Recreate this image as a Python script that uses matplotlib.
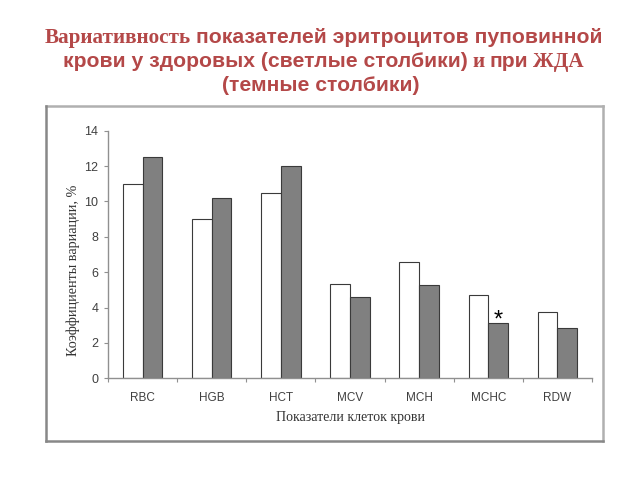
import numpy as np
import matplotlib
matplotlib.use("Agg")
import matplotlib.pyplot as plt
from matplotlib.lines import Line2D

categories = ["RBC", "HGB", "HCT", "MCV", "MCH", "MCHC", "RDW"]
healthy = [11.0, 9.0, 10.5, 5.35, 6.6, 4.7, 3.75]
ida = [12.5, 10.2, 12.0, 4.6, 5.25, 3.1, 2.85]
yticks = [0, 2, 4, 6, 8, 10, 12, 14]

SANS = "Liberation Sans"
SERIF = "Liberation Serif"
TITLE_COLOR = "#b44848"

fig = plt.figure(figsize=(6.4, 4.8), dpi=100)
W, H = 640, 480

# outer frame of the pasted chart
fl, fr, ft, fb = 46 / W, 603 / W, 1 - 106 / H, 1 - 441 / H
fig.add_artist(Line2D([fl, fr], [ft, ft], color="#b0b0b0", lw=1.8, transform=fig.transFigure))
fig.add_artist(Line2D([fr, fr], [ft, fb], color="#b0b0b0", lw=1.8, transform=fig.transFigure))
fig.add_artist(Line2D([fl, fl], [ft, fb], color="#888888", lw=1.8, transform=fig.transFigure))
fig.add_artist(Line2D([fl, fr], [fb, fb], color="#888888", lw=1.8, transform=fig.transFigure))

ax = fig.add_axes([108 / W, 1 - 378.3 / H, (592 - 108) / W, (378.3 - 130.7) / H])

x = np.arange(len(categories))
bw = 0.285
ax.bar(x - bw / 2, healthy, bw, color="white", edgecolor="#3a3a3a", linewidth=0.8)
ax.bar(x + bw / 2, ida, bw, color="#808080", edgecolor="#3a3a3a", linewidth=0.8)

# significance mark on MCHC
i = categories.index("MCHC")
ax.text(x[i] + bw / 2, ida[i] + 0.15, "*", ha="center", va="center",
        fontsize=17, family=SANS, color="black")

ax.set_xlim(-0.5, len(categories) - 0.5)
ax.set_ylim(0, 14)
ax.set_yticks(yticks)
ax.set_xticks(np.arange(len(categories) + 1) - 0.5)
ax.set_xticklabels([])
ax.set_xticks(x, minor=True)
ax.set_xticklabels(categories, minor=True)
ax.tick_params(axis="x", which="minor", length=0, pad=10, labelsize=8.5, labelcolor="#404040")
ax.tick_params(axis="x", which="major", length=3, direction="out", color="#909090")
ax.tick_params(axis="y", length=3, direction="out", color="#909090", labelsize=9,
               labelcolor="#404040", pad=4)
for lab in ax.get_xticklabels(minor=True) + ax.get_yticklabels():
    lab.set_family(SANS)
for s in ["top", "right"]:
    ax.spines[s].set_visible(False)
for s in ["left", "bottom"]:
    ax.spines[s].set_color("#909090")
    ax.spines[s].set_linewidth(1.0)

fig.text(73 / W, 1 - 270 / H, "Коэффициенты вариации, %", rotation=90, ha="center",
         va="center", family=SERIF, fontsize=10.2, color="#333333")
fig.text(350 / W, 1 - 418 / H, "Показатели клеток крови", ha="center", va="center",
         family=SERIF, fontsize=10, color="#333333")

# title with mixed serif / sans runs, centred line by line
title_lines = [
    ([("Вариативность", SERIF), ("показателей эритроцитов пуповинной", SANS)], 42.7, 3.5),
    ([("крови у здоровых (светлые столбики)", SANS), ("и", SERIF), ("при", SANS),
      ("ЖДА", SERIF)], 66.7, 3.5),
    ([("(темные столбики)", SANS)], 90.7, 0.5),
]
gap = 5
renderer = fig.canvas.get_renderer()
for runs, ybase, shift in title_lines:
    texts = [fig.text(0, 1 - ybase / H, s, family=fam, fontsize=15.2, weight="bold",
                      color=TITLE_COLOR, ha="left", va="baseline") for s, fam in runs]
    widths = [t.get_window_extent(renderer).width for t in texts]
    total = sum(widths) + gap * (len(texts) - 1)
    xpos = (W - total) / 2 + shift
    for t, w in zip(texts, widths):
        t.set_x(xpos / W)
        xpos += w + gap

fig.savefig("out.png", dpi=100)
